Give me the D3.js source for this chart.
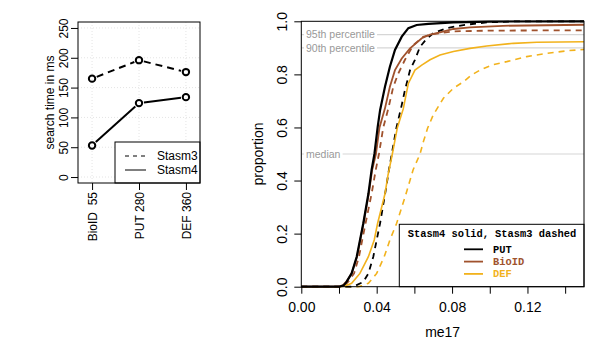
<!DOCTYPE html>
<meta charset="utf-8">
<title>Stasm search time and me17</title>
<style>
body { margin: 0; background: #fff; }
svg { font-family: "Liberation Sans", Arial, sans-serif; }
.mono { font-family: "Liberation Mono", "DejaVu Sans Mono", monospace; font-weight: bold; }
</style>
<svg width="590" height="350"></svg>
<script src="https://d3js.org/d3.v7.min.js"></script>
<script>
// left panel: search time
var sets = ["BioID  55", "PUT 280", "DEF 360"];
var stasm3Time = [165, 196, 176];
var stasm4Time = [53, 124, 134];
var timeTicks = [0, 50, 100, 150, 200, 250];

// right panel: cumulative me17 distributions, [me17, proportion]
var putSolid = [[0,0],[0.020,0],[0.0225,0.005],[0.024,0.018],[0.0267,0.05],[0.0294,0.113],[0.0329,0.239],[0.0356,0.35],[0.0373,0.44],[0.0388,0.5],[0.0405,0.6],[0.0418,0.665],[0.0444,0.753],[0.047,0.829],[0.0497,0.892],[0.0533,0.942],[0.0568,0.974],[0.0612,0.986],[0.0674,0.99],[0.0807,0.996],[0.1,0.999],[0.15,1]];
var putDashed = [[0,0],[0.026,0],[0.0285,0.003],[0.0329,0.018],[0.0356,0.05],[0.0382,0.113],[0.040,0.176],[0.0418,0.239],[0.0448,0.364],[0.0465,0.44],[0.048,0.5],[0.0505,0.6],[0.0533,0.685],[0.055,0.741],[0.0577,0.816],[0.0603,0.855],[0.063,0.904],[0.066,0.93],[0.070,0.955],[0.077,0.974],[0.086,0.986],[0.0984,0.996],[0.115,1],[0.15,1]];
var bioidSolid = [[0,0],[0.020,0],[0.022,0.005],[0.024,0.02],[0.0267,0.05],[0.0296,0.113],[0.033,0.239],[0.0358,0.35],[0.0376,0.44],[0.0396,0.5],[0.0415,0.6],[0.0444,0.672],[0.047,0.753],[0.0497,0.816],[0.0533,0.86],[0.0577,0.898],[0.0639,0.936],[0.0683,0.95],[0.0736,0.958],[0.0807,0.971],[0.0895,0.977],[0.107,0.983],[0.15,0.987]];
var bioidDashed = [[0,0],[0.021,0],[0.023,0.005],[0.025,0.02],[0.028,0.05],[0.0306,0.113],[0.0341,0.239],[0.0373,0.35],[0.0395,0.44],[0.0412,0.5],[0.0435,0.6],[0.0462,0.672],[0.0488,0.753],[0.0515,0.804],[0.055,0.855],[0.0594,0.91],[0.0647,0.942],[0.070,0.952],[0.0807,0.962],[0.1,0.965],[0.15,0.966]];
var defSolid = [[0,0],[0.021,0],[0.0235,0.004],[0.0267,0.013],[0.0311,0.05],[0.0356,0.113],[0.0387,0.176],[0.0405,0.239],[0.0427,0.301],[0.0444,0.35],[0.046,0.42],[0.0483,0.5],[0.051,0.6],[0.0541,0.67],[0.0568,0.766],[0.0603,0.816],[0.0639,0.835],[0.0683,0.855],[0.0736,0.873],[0.0807,0.886],[0.0895,0.898],[0.0984,0.907],[0.1125,0.917],[0.125,0.921],[0.15,0.923]];
var defDashed = [[0,0],[0.030,0],[0.032,0.003],[0.0356,0.013],[0.040,0.05],[0.044,0.113],[0.047,0.176],[0.0506,0.239],[0.0554,0.346],[0.0593,0.44],[0.063,0.5],[0.0648,0.547],[0.067,0.597],[0.070,0.647],[0.0754,0.71],[0.0807,0.748],[0.086,0.772],[0.0904,0.798],[0.0948,0.816],[0.101,0.835],[0.109,0.848],[0.1196,0.867],[0.130,0.879],[0.141,0.889],[0.15,0.894]];

var me17Ticks = [0, 0.02, 0.04, 0.06, 0.08, 0.10, 0.12, 0.14];
var propTicks = [0, 0.2, 0.4, 0.6, 0.8, 1.0];
var refLevels = [0.95, 0.90, 0.50];
var refLabels = ["95th percentile", "90th percentile", "median"];

var svg = d3.select("svg");

// ---------------- left panel ----------------
var L = {left: 78, right: 200, top: 22, bottom: 183};
var lx = d3.scaleLinear().domain([0.7, 3.3]).range([L.left, L.right]);
var ly = d3.scaleLinear().domain([-10, 260]).range([L.bottom, L.top]);
var left = svg.append("g");

// faint dotted grid
left.selectAll(".vg").data([1, 2, 3]).enter().append("line")
    .attr("x1", function(d) { return lx(d); }).attr("x2", function(d) { return lx(d); })
    .attr("y1", L.top).attr("y2", L.bottom)
    .attr("stroke", "#e4e4e4").attr("stroke-dasharray", "1,2");
left.selectAll(".hg").data(timeTicks).enter().append("line")
    .attr("x1", L.left).attr("x2", L.right)
    .attr("y1", function(d) { return ly(d); }).attr("y2", function(d) { return ly(d); })
    .attr("stroke", "#e4e4e4").attr("stroke-dasharray", "1,2");

var lyAxis = left.append("g")
    .attr("transform", "translate(" + L.left + ",0)")
    .call(d3.axisLeft(ly).tickValues(timeTicks).tickSize(7).tickSizeOuter(0));
lyAxis.select(".domain").remove();
lyAxis.selectAll("text")
    .attr("transform", "rotate(-90)")
    .attr("x", 0).attr("y", -10.5).attr("dy", 0)
    .attr("text-anchor", "middle")
    .style("font-size", "12px").style("font-family", "Liberation Sans, Arial, sans-serif");

var lxAxis = left.append("g")
    .attr("transform", "translate(0," + L.bottom + ")")
    .call(d3.axisBottom(lx).tickValues([1, 2, 3]).tickSize(7).tickSizeOuter(0)
      .tickFormat(function(d) { return sets[d - 1]; }));
lxAxis.select(".domain").remove();
lxAxis.selectAll("text")
    .attr("transform", "rotate(-90)")
    .attr("x", -9).attr("y", 4.3).attr("dy", 0)
    .attr("text-anchor", "end")
    .style("white-space", "pre")
    .style("font-size", "12px").style("font-family", "Liberation Sans, Arial, sans-serif");

left.append("text")
    .attr("transform", "translate(54," + ((L.top + L.bottom) / 2) + ") rotate(-90)")
    .attr("text-anchor", "middle").style("font-size", "12px")
    .text("search time in ms");

// lines with gaps round the points (type "b")
function gappedLines(g, vals, dash) {
  var pts = vals.map(function(v, i) { return [lx(i + 1), ly(v)]; });
  var gap = 5;
  var segs = d3.pairs(pts).map(function(p) {
    var dx = p[1][0] - p[0][0], dy = p[1][1] - p[0][1];
    var len = Math.sqrt(dx * dx + dy * dy);
    var ux = dx / len, uy = dy / len;
    return [p[0][0] + ux * gap, p[0][1] + uy * gap, p[1][0] - ux * gap, p[1][1] - uy * gap];
  });
  g.selectAll(null).data(segs).enter().append("line")
    .attr("x1", function(d) { return d[0]; }).attr("y1", function(d) { return d[1]; })
    .attr("x2", function(d) { return d[2]; }).attr("y2", function(d) { return d[3]; })
    .attr("stroke", "#000").attr("stroke-width", 2)
    .attr("stroke-dasharray", dash ? "7,5" : null);
  g.selectAll(null).data(pts).enter().append("circle")
    .attr("cx", function(d) { return d[0]; }).attr("cy", function(d) { return d[1]; })
    .attr("r", 3.2).attr("fill", "none").attr("stroke", "#000").attr("stroke-width", 2);
}
gappedLines(left.append("g"), stasm3Time, true);
gappedLines(left.append("g"), stasm4Time, false);

// left legend
left.append("rect").attr("x", 115).attr("y", 142).attr("width", L.right - 115).attr("height", L.bottom - 142)
    .attr("fill", "#fff").attr("stroke", "#000");
[["Stasm3", "4,4", 156], ["Stasm4", null, 170]].forEach(function(e) {
  left.append("line").attr("x1", 125).attr("x2", 146).attr("y1", e[2]).attr("y2", e[2])
      .attr("stroke", "#000").attr("stroke-dasharray", e[1]);
  left.append("text").attr("x", 157).attr("y", e[2] + 4).style("font-size", "12px").text(e[0]);
});

left.append("rect").attr("x", L.left).attr("y", L.top)
    .attr("width", L.right - L.left).attr("height", L.bottom - L.top)
    .attr("fill", "none").attr("stroke", "#000");

// ---------------- right panel ----------------
var R = {left: 301.3, right: 584, top: 21.3, bottom: 286.7};
var x = d3.scaleLinear().domain([0, 0.15]).range([R.left, R.right]);
var y = d3.scaleLinear().domain([0, 1]).range([R.bottom, R.top]);
var right = svg.append("g");

var refs = right.selectAll(".ref").data(refLevels).enter().append("g");
refs.append("line")
    .attr("x1", R.left).attr("x2", R.right)
    .attr("y1", function(d) { return y(d); }).attr("y2", function(d) { return y(d); })
    .attr("stroke", "#d6d6d6").attr("stroke-width", 1.2);
refs.append("text")
    .attr("x", 306).attr("y", function(d) { return y(d) + 3.7; })
    .style("font-size", "10.5px").attr("fill", "#999")
    .text(function(d, i) { return refLabels[i]; })
    .each(function() {
      var b = this.getBBox();
      d3.select(this.parentNode).insert("rect", "text")
        .attr("x", b.x - 2).attr("y", b.y).attr("width", b.width + 4).attr("height", b.height)
        .attr("fill", "#fff");
    });

var line = d3.line()
    .x(function(d) { return x(d[0]); })
    .y(function(d) { return y(d[1]); });

var curves = [
  {data: defDashed, color: "#F2B21C", dash: "6,5", w: 1.6},
  {data: putDashed, color: "#000", dash: "6,5", w: 1.8},
  {data: bioidDashed, color: "#A0522D", dash: "6,5", w: 1.8},
  {data: defSolid, color: "#F2B21C", dash: null, w: 1.6},
  {data: bioidSolid, color: "#A0522D", dash: null, w: 1.8},
  {data: putSolid, color: "#000", dash: null, w: 2.2}
];
right.selectAll(".curve").data(curves).enter().append("path")
    .attr("d", function(d) { return line(d.data); })
    .attr("fill", "none")
    .attr("stroke", function(d) { return d.color; })
    .attr("stroke-width", function(d) { return d.w; })
    .attr("stroke-dasharray", function(d) { return d.dash; });

var yAxis = right.append("g")
    .attr("transform", "translate(" + R.left + ",0)")
    .call(d3.axisLeft(y).tickValues(propTicks).tickSize(7).tickSizeOuter(0).tickFormat(d3.format(".1f")));
yAxis.select(".domain").remove();
yAxis.selectAll("text")
    .attr("transform", "rotate(-90)")
    .attr("x", 0).attr("y", -14.6).attr("dy", 0)
    .attr("text-anchor", "middle")
    .style("font-size", "14px").style("font-family", "Liberation Sans, Arial, sans-serif");

var xAxis = right.append("g")
    .attr("transform", "translate(0," + R.bottom + ")")
    .call(d3.axisBottom(x).tickValues(me17Ticks).tickSize(7).tickSizeOuter(0)
      .tickFormat(function(d, i) { return i % 2 === 0 ? d3.format(".2f")(d) : ""; }));
xAxis.select(".domain").remove();
xAxis.selectAll("text")
    .attr("y", 25.3).attr("dy", 0)
    .style("font-size", "14px").style("font-family", "Liberation Sans, Arial, sans-serif");

right.append("text")
    .attr("transform", "translate(263," + ((R.top + R.bottom) / 2) + ") rotate(-90)")
    .attr("text-anchor", "middle").style("font-size", "14px").text("proportion");
right.append("text")
    .attr("x", (R.left + R.right) / 2).attr("y", 337)
    .attr("text-anchor", "middle").style("font-size", "14px").text("me17");

// right legend
var lg = right.append("g");
lg.append("rect").attr("x", 399.3).attr("y", 224.3).attr("width", R.right - 399.3).attr("height", R.bottom - 224.3)
    .attr("fill", "#fff").attr("stroke", "#000");
lg.append("text").attr("class", "mono").attr("x", 492).attr("y", 236.5)
    .attr("text-anchor", "middle").style("font-size", "10.4px")
    .text("Stasm4 solid, Stasm3 dashed");
var legendNames = ["PUT", "BioID", "DEF"];
var legendColors = ["#000", "#A0522D", "#F2B21C"];
legendNames.forEach(function(n, i) {
  var yy = 249.3 + i * 12.3;
  lg.append("line").attr("x1", 464).attr("x2", 483).attr("y1", yy).attr("y2", yy)
      .attr("stroke", legendColors[i]).attr("stroke-width", 1.8);
  lg.append("text").attr("class", "mono").attr("x", 493).attr("y", yy + 3.5)
      .style("font-size", "10.4px").attr("fill", legendColors[i]).text(n);
});

right.append("rect").attr("x", R.left).attr("y", R.top)
    .attr("width", R.right - R.left).attr("height", R.bottom - R.top)
    .attr("fill", "none").attr("stroke", "#000");
</script>
